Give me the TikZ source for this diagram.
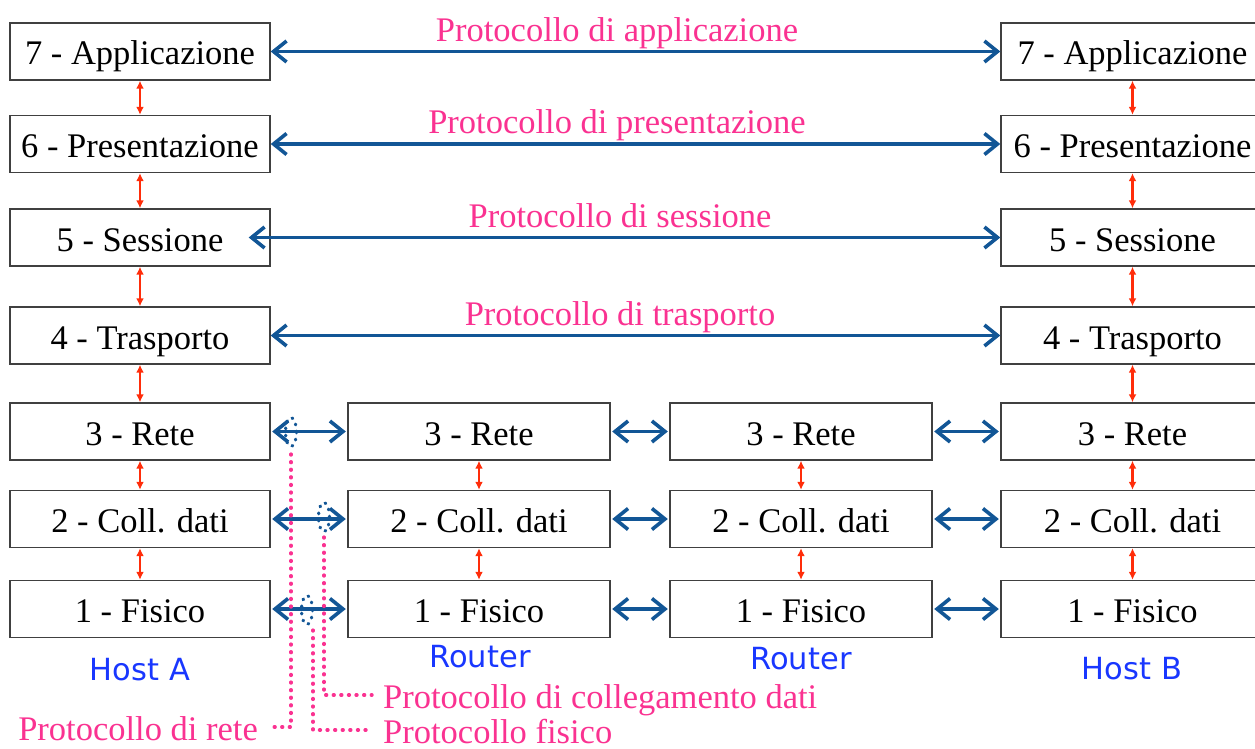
\documentclass[tikz,border=0pt]{standalone}
\usepackage{fontspec}
\setmainfont{Liberation Serif}
\newfontfamily\hostfont{DejaVu Sans}
\usetikzlibrary{arrows.meta,shapes.geometric}
\definecolor{pinkc}{RGB}{250,50,145}
\definecolor{bluec}{RGB}{18,86,150}
\definecolor{redc}{RGB}{255,45,10}
\definecolor{hostc}{RGB}{25,55,255}
\begin{document}
\begin{tikzpicture}[x=1pt,y=-1pt,
  layer/.style={draw=black!75, line width=1.4pt, minimum height=57pt, inner sep=0pt, fill=white,
    text height=30pt, text depth=3pt, font=\fontsize{34.5}{40}\selectfont},
  leftbox/.style={layer, minimum width=260pt},
  rtbox/.style={layer, minimum width=262pt},
  rightbox/.style={layer, minimum width=263pt},
  redarr/.style={draw=redc, line width=2.4pt, {Latex[length=8pt,width=8pt]}-{Latex[length=8pt,width=8pt]}},
  bluearr/.style={draw=bluec, line width=3.6pt, {Straight Barb[length=13pt,width=21pt]}-{Straight Barb[length=13pt,width=21pt]}},
  plabel/.style={text=pinkc, inner sep=0pt, font=\fontsize{34.5}{40}\selectfont},
  hostlabel/.style={text=hostc, inner sep=0pt, font=\hostfont\fontsize{30.5}{36}\selectfont},
  pinkdot/.style={draw=pinkc, line width=3.4pt, line cap=round, dash pattern=on 0.9pt off 6.7pt},
  bluedot/.style={ellipse, draw=bluec, line width=3.2pt, line cap=round, dash pattern=on 0.8pt off 6.4pt,
    minimum width=11pt, minimum height=29pt, inner sep=0pt}
]
\useasboundingbox (0,0) rectangle (1255,749);
\clip (0,0) rectangle (1255,749);

% Host A
\node[leftbox] (L7) at (140,51.5) {7 - Applicazione};
\node[leftbox] (L6) at (140,144) {6 - Presentazione};
\node[leftbox] (L5) at (140,237.5) {5 - Sessione};
\node[leftbox] (L4) at (140,335.5) {4 - Trasporto};
\node[leftbox] (L3) at (140,431.5) {3 - Rete};
\node[leftbox] (L2) at (140,519) {2 - Coll. dati};
\node[leftbox] (L1) at (140,609) {1 - Fisico};

% Router 1
\node[rtbox] (A3) at (479,431.5) {3 - Rete};
\node[rtbox] (A2) at (479,519) {2 - Coll. dati};
\node[rtbox] (A1) at (479,609) {1 - Fisico};

% Router 2
\node[rtbox] (B3) at (801,431.5) {3 - Rete};
\node[rtbox] (B2) at (801,519) {2 - Coll. dati};
\node[rtbox] (B1) at (801,609) {1 - Fisico};

% Host B
\node[rightbox] (R7) at (1132.5,51.5) {7 - Applicazione};
\node[rightbox] (R6) at (1132.5,144) {6 - Presentazione};
\node[rightbox] (R5) at (1132.5,237.5) {5 - Sessione};
\node[rightbox] (R4) at (1132.5,335.5) {4 - Trasporto};
\node[rightbox] (R3) at (1132.5,431.5) {3 - Rete};
\node[rightbox] (R2) at (1132.5,519) {2 - Coll. dati};
\node[rightbox] (R1) at (1132.5,609) {1 - Fisico};

% vertical red arrows
\foreach \c in {L,R}{
  \draw[redarr] (\c7.south) -- (\c6.north);
  \draw[redarr] (\c6.south) -- (\c5.north);
  \draw[redarr] (\c5.south) -- (\c4.north);
  \draw[redarr] (\c4.south) -- (\c3.north);
  \draw[redarr] (\c3.south) -- (\c2.north);
  \draw[redarr] (\c2.south) -- (\c1.north);
}
\foreach \c in {A,B}{
  \draw[redarr] (\c3.south) -- (\c2.north);
  \draw[redarr] (\c2.south) -- (\c1.north);
}

% horizontal blue arrows
\draw[bluearr] (L7.east) -- (R7.west);
\draw[bluearr] (L6.east) -- (R6.west);
\draw[bluearr] ([xshift=-22pt]L5.east) -- (R5.west);
\draw[bluearr] (L4.east) -- (R4.west);
\foreach \r in {3,2,1}{
  \draw[bluearr] ([xshift=1.5pt]L\r.east) -- ([xshift=-1.5pt]A\r.west);
  \draw[bluearr] ([xshift=1.5pt]A\r.east) -- ([xshift=-1.5pt]B\r.west);
  \draw[bluearr] ([xshift=1.5pt]B\r.east) -- ([xshift=-1.5pt]R\r.west);
}

% protocol labels
\node[plabel, anchor=base] (p7) at (617,42) {Protocollo di applicazione};
\node[plabel, anchor=base] (p6) at (617,133) {Protocollo di presentazione};
\node[plabel, anchor=base] (p5) at (620,227) {Protocollo di sessione};
\node[plabel, anchor=base] (p4) at (620,325) {Protocollo di trasporto};

% host labels
\node[hostlabel, anchor=base] (hA) at (140,680) {Host A};
\node[hostlabel, anchor=base] (rA) at (480,667) {Router};
\node[hostlabel, anchor=base] (rB) at (801,669) {Router};
\node[hostlabel, anchor=base] (hB) at (1132,679) {Host B};

% dotted ellipses
\node[bluedot] (c3) at (291,432) {};
\node[bluedot] (c2) at (324,517) {};
\node[bluedot] (c1) at (307,610) {};

% bottom labels
\node[plabel, anchor=base east] (lrete) at (258,740) {Protocollo di rete};
\node[plabel, anchor=base west] (lcoll) at (383,708) {Protocollo di collegamento dati};
\node[plabel, anchor=base west] (lfis) at (383,743) {Protocollo fisico};
\coordinate (er) at (268,727);
\coordinate (ec) at (372,695);
\coordinate (ef) at (372,730);

\draw[pinkdot] ([yshift=-6pt]c3.south) |- (er);
\draw[pinkdot] ([yshift=-4pt]c2.south) |- (ec);
\draw[pinkdot] ([xshift=6pt,yshift=-4pt]c1.south) |- (ef);
\end{tikzpicture}
\end{document}
